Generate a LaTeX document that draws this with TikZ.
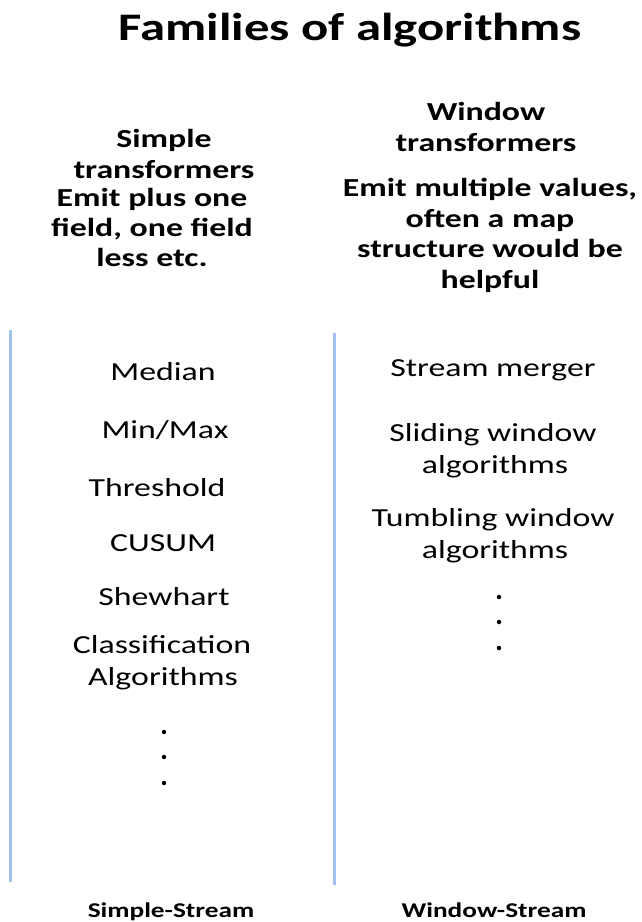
\documentclass[tikz,border=0pt]{standalone}
\usepackage{fontspec}
\usepackage{graphicx}
\setmainfont{Carlito}
\definecolor{rule}{RGB}{160,194,236}
\newcommand{\wide}[1]{\scalebox{1.3}[1]{#1}}
\tikzset{
  txt/.style={anchor=base, inner sep=0pt, font=\fontsize{26}{30}\selectfont},
  btxt/.style={txt, font=\fontsize{26}{30}\selectfont\bfseries},
  ttl/.style={anchor=base, inner sep=0pt, font=\fontsize{39}{46}\selectfont\bfseries},
  foot/.style={anchor=base, inner sep=0pt, font=\fontsize{21}{25}\selectfont\bfseries},
  sep/.style={draw=rule, line width=3pt},
  dot/.style={circle, fill=black, inner sep=0pt, minimum size=4.5pt}
}
\begin{document}
\begin{tikzpicture}[x=1pt,y=-1pt]
\useasboundingbox (0,0) rectangle (642,922);
\node[ttl] (title) at (350,40) {\wide{Families of algorithms}};
% left heading
\node[btxt] (lh1) at (164,147) {\wide{Simple}};
\node[btxt] (lh2) at (164,178) {\wide{transformers}};
\node[btxt] (ld1) at (152,206) {\wide{Emit plus one}};
\node[btxt] (ld2) at (152,236) {\wide{field, one field}};
\node[btxt] (ld3) at (152,266) {\wide{less etc.}};
% right heading
\node[btxt] (rh1) at (486,120) {\wide{Window}};
\node[btxt] (rh2) at (486,151) {\wide{transformers}};
\node[btxt] (rd1) at (490,196) {\wide{Emit multiple values,}};
\node[btxt] (rd2) at (490,227) {\wide{often a map}};
\node[btxt] (rd3) at (490,257) {\wide{structure would be}};
\node[btxt] (rd4) at (490,288) {\wide{helpful}};
% separators
\coordinate (l1) at (10,330);
\coordinate (l2) at (10,882);
\coordinate (r1) at (334,333);
\coordinate (r2) at (334,885);
\draw[sep] (l1) -- (l2);
\draw[sep] (r1) -- (r2);
% left items
\node[txt] (median) at (163,380) {\wide{Median}};
\node[txt] (minmax) at (165,438) {\wide{Min/Max}};
\node[txt] (thresh) at (157,496) {\wide{Threshold}};
\node[txt] (cusum) at (163,551) {\wide{CUSUM}};
\node[txt] (shew) at (164,605) {\wide{Shewhart}};
\node[txt] (class1) at (162,653) {\wide{Classification}};
\node[txt] (class2) at (163,685) {\wide{Algorithms}};
\node[dot] (ldot1) at (164,732) {};
\node[dot] (ldot2) at (164,757) {};
\node[dot] (ldot3) at (164,783) {};
% right items
\node[txt] (merger) at (493,376) {\wide{Stream merger}};
\node[txt] (slide1) at (493,441) {\wide{Sliding window}};
\node[txt] (slide2) at (495,473) {\wide{algorithms}};
\node[txt] (tumb1) at (493,526) {\wide{Tumbling window}};
\node[txt] (tumb2) at (495,558) {\wide{algorithms}};
\node[dot] (rdot1) at (499,597) {};
\node[dot] (rdot2) at (499,622) {};
\node[dot] (rdot3) at (499,648) {};
% footers
\node[foot] (fl) at (171,917) {\wide{Simple-Stream}};
\node[foot] (fr) at (494,917) {\wide{Window-Stream}};
\end{tikzpicture}
\end{document}
